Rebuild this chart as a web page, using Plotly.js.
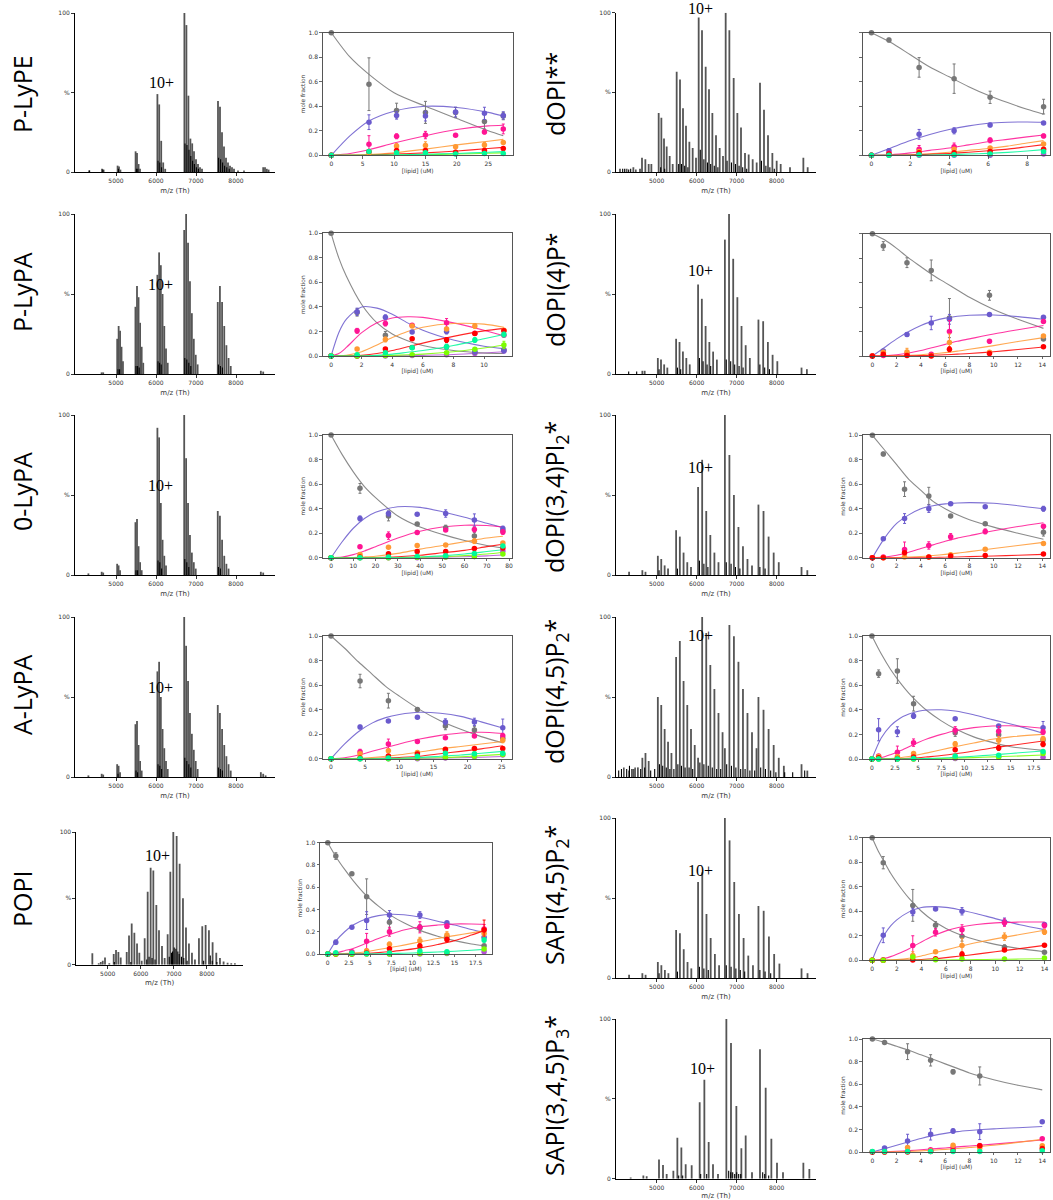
<!DOCTYPE html>
<html><head><meta charset="utf-8">
<script src="https://cdn.plot.ly/plotly-3.0.1.min.js"></script>
<style>body{margin:0;background:#fff}#chart{width:1053px;height:1200px}</style>
</head><body><div id="chart"></div>
<script>
// ================= DATA =================
const rowLabelsLeft = ['P-LyPE','P-LyPA','0-LyPA','A-LyPA','POPI'];
const rowLabelsRight = ['dOPI**','dOPI(4)P*','dOPI(3,4)PI<sub>2</sub>*','dOPI(4,5)P<sub>2</sub>*','SAPI(4,5)P<sub>2</sub>*','SAPI(3,4,5)P<sub>3</sub>*'];
const chargeLabel = '10+';
const specTicks = [5000,6000,7000,8000];
const fracTicksY = [0,0.2,0.4,0.6,0.8,1.0];

// ---- mass spectra: main peaks (m/z, % intensity) ----
const s1Mz  = [4333,4650,4690,5040,5075,5110,5490,5525,5565,5600,6035,6080,6130,6180,6230,6710,6760,6810,6860,6905,6950,7000,7050,7100,7150,7550,7600,7650,7700,7750,7800,7850,7900,7950,8680,8725,8770,8815];
const s1Int = [1,2,1.5,4,3.5,1.5,13,12,5,2,49,42.5,19.6,6,2,100,92.4,48,21,18,13,8,5,3,2,44.6,41,25,16,9,6,4,3,2,3,3,2,1.5];
const s1MinMz  = [4333,4670,5060,5510,5545,6050,6095,6140,6725,6775,6825,6870,6915,6960,7010,7060,7565,7615,7665,7715,7770,7830,8050,8200];
const s1MinInt = [1,1.5,2,2,2,7,6,3,18,17,14,10,7,5,3,2,9,8,6,4,3,2,1,1];

const s2Mz  = [4640,4680,5030,5066,5102,5138,5174,5486,5525,5564,5603,5642,5681,6035,6078,6121,6164,6207,6250,6293,6705,6753,6801,6849,6897,6945,6993,7041,7544,7598,7652,7706,7760,7814,7868,8621,8680];
const s2Int = [1,1,22,30,27,17,8,42,55,48,32,17,7,62,76,68,50,30,16,7,90,100,82,58,38,22,12,6,45,55,45,30,18,10,5,2,1.5];
const s2MinMz  = [5050,5090,5500,5540,5580,6050,6090,6130,6720,6770,6820,6870,7560,7610,7660];
const s2MinInt = [3,3,5,5,4,8,7,6,10,9,7,5,6,5,4];

const s3Mz  = [4310,4642,4680,5029,5065,5101,5486,5525,5564,5603,5642,6035,6078,6121,6164,6207,6250,6705,6753,6801,6849,6897,6945,6993,7544,7598,7652,7706,7760,7814,8621,8680];
const s3Int = [1,2,1.5,7,6,3,33,35,18,8,3,92,86,45,22,12,6,100,73,45,25,14,8,4,40,37,22,12,7,4,2,1.5];
const s3MinMz  = [5500,5540,6050,6095,6140,6720,6770,6820,7560,7610];
const s3MinInt = [3,3,9,8,4,10,8,5,5,4];

const s4Mz  = [4310,4642,4680,5029,5065,5101,5486,5525,5564,5603,5642,6035,6078,6121,6164,6207,6250,6293,6705,6753,6801,6849,6897,6945,6993,7041,7544,7598,7652,7706,7760,7814,7868,8621,8680,8740];
const s4Int = [1,2,1.5,8,7,3,33,35,20,10,4,66,72,50,30,18,10,5,100,82,60,40,27,17,10,5,45,40,30,20,13,8,4,3,2,1];
const s4MinMz  = [5050,5500,5540,6050,6095,6140,6720,6770,6820,6870,7560,7610,7660];
const s4MinInt = [2,4,3,8,7,5,12,10,8,6,6,5,4];

const s5Mz  = [4535,4728,4790,4850,4918,5048,5181,5251,5322,5393,5574,5644,5725,5805,5886,5956,6027,6117,6208,6298,6379,6470,6550,6641,6721,6812,6893,6983,7084,7174,7275,7366,7456,7547,7637,7758,7859,7960,8060,8171,8282,8393,8503,8624,8735,8845];
const s5Int = [8.6,1,2,3,5.5,1,8,11,9.5,5.5,9.5,22,31,24,16,9,3,20,55,73,71,45,26,14,5,23,70,100,97,76,50,28,16,9,4,20,29,30,26,17,9,5,2.5,1.5,1,1];
const s5MinMz  = [5200,5700,6180,6250,6340,6430,6860,6930,6960,7010,7060,7120,7160,7230,7300,7400,7900,8100,8160,8300];
const s5MinInt = [2,2,4,6,5,4,6,9,10,13,12,10,8,6,5,3,3,7,3,2];

const s6Mz  = [4083,4250,4417,4583,4633,4717,4800,4867,5050,5117,5183,5250,5325,5400,5500,5583,5658,5733,5817,5900,5983,6050,6133,6225,6308,6392,6483,6575,6658,6725,6817,6925,7017,7108,7208,7300,7400,7500,7583,7683,7783,7892,8000,8100,8333,8667,8775];
const s6Int = [2,2,3,2,9,8,5,5,37,34,21,16,10,5,63,58,40,29,19,15,9,97,89,66,52,37,23,15,10,100,89,59,37,28,12,11,8,6,56,39,23,12,7,5,3,9,3];
const s6MinMz  = [4150,4200,4300,4350,4480,5100,5200,5550,5620,5700,5780,6090,6180,6270,6350,6440,6530,6760,6870,6970,7060,7150,7250,7620,7730,7830,7940];
const s6MinInt = [2,2,1.5,2,1.5,3,2,5,5,4,3,14,8,6,5,4,3,7,6,5,4,3,2,7,4,3,2];

const s7Mz  = [4642,4700,5029,5108,5187,5266,5486,5571,5656,5741,5826,6035,6129,6223,6317,6411,6505,6705,6809,6913,7017,7121,7225,7329,7544,7662,7780,7898,8016,8621,8755];
const s7Int = [2,2,10,9,6,4,22,20,14,10,6,56,47,30,20,14,9,84,100,72,48,30,18,10,34,33,20,12,8,4,3];
const s7MinMz  = [4300,4500,5060,5520,5600,6070,6160,6260,6350,6740,6850,6950,7060,7160,7580,7700,7820];
const s7MinInt = [1.5,1.5,3,4,3,10,8,6,5,9,8,6,5,4,6,4,3];

const s8Mz  = [4310,4642,4720,5029,5114,5199,5284,5486,5579,5672,5765,5858,6035,6137,6239,6341,6443,6545,6705,6818,6931,7044,7157,7270,7383,7544,7671,7798,7925,8052,8621,8766];
const s8Int = [2,3,2,12,10,6,4,28,24,14,8,5,55,72,40,25,14,8,100,75,50,30,18,10,6,44,40,24,14,8,5,3];
const s8MinMz  = [5060,5520,6070,6180,6280,6740,6860,6970,7080,7580,7710];
const s8MinInt = [3,4,9,7,5,8,7,5,4,5,4];

const s9Mz  = [4310,4420,4530,4642,4720,4800,5029,5114,5199,5284,5369,5486,5579,5672,5765,5858,5951,6035,6137,6239,6341,6443,6545,6647,6705,6818,6931,7044,7157,7270,7383,7496,7544,7671,7798,7925,8052,8179,8621,8766];
const s9Int = [4,5,6,12,15,10,50,45,30,22,15,75,85,60,45,30,20,12,100,90,70,55,40,28,18,95,88,72,55,40,28,18,50,42,30,20,12,7,8,4];
const s9MinMz  = [4050,4120,4180,4250,4320,4380,4460,4600,4700,4850,4950,5070,5150,5240,5330,5430,5530,5620,5710,5810,5900,6080,6180,6290,6390,6500,6600,6750,6870,6980,7100,7210,7330,7450,7600,7720,7850,7980,8200,8400,8700];
const s9MinInt = [4,5,6,5,7,5,6,5,6,4,5,8,7,6,5,5,8,7,6,6,5,9,8,7,6,5,5,8,7,6,5,5,4,4,6,5,4,3,3,3,4];

const s10Mz  = [4310,4642,4723,5029,5117,5205,5293,5486,5581,5676,5771,5866,6035,6140,6245,6350,6455,6560,6705,6822,6939,7056,7173,7290,7407,7544,7675,7806,7937,8068,8621,8771];
const s10Int = [2,3,2,10,8,5,3,30,28,18,10,6,60,66,40,25,15,8,100,86,60,40,25,14,8,45,42,26,15,9,6,3];
const s10MinMz  = [5060,5520,6070,6180,6290,6740,6860,6980,7090,7200,7580,7710,7850];
const s10MinInt = [3,4,7,6,5,8,7,6,5,4,5,4,3];

const s11Mz  = [4350,4667,4750,5058,5158,5250,5417,5517,5617,5725,5875,6075,6192,6300,6408,6533,6742,6858,6992,7117,7225,7383,7583,7725,7867,8008,8158,8667,8817];
const s11Int = [0.8,2,1.5,12,8.6,3,5,25.7,19.5,9,8.5,47.8,62,23,9,3,100,85,45.6,19,27,4,81,57,25,10,4,10,6];
const s11MinMz  = [5550,5650,6100,6250,6800,6850,6900,6950,7000,7050,7100,7650,7700,7800];
const s11MinInt = [2,2,3,3,5,4,4,3,4,3,3,4,3,2];

// ---- mole fraction panels ----
// F1 P-LyPE
const f1Conc = [0,6.0,10.4,15.0,19.8,24.4,27.4];
const f1Gray = [1.0,0.58,0.365,0.35,0.35,0.275,0.32], f1GrayErr = [0,0.215,0.06,0.09,0.04,0.06,0.03];
const f1Blue = [0,0.27,0.325,0.32,0.353,0.342,0.325], f1BlueErr = [0,0.06,0.03,0.04,0.04,0.05,0.03];
const f1Pink = [0,0.09,0.155,0.165,0.163,0.19,0.215], f1PinkErr = [0,0.07,0.02,0.03,0.01,0.015,0.04];
const f1Orange = [0,0.02,0.075,0.08,0.07,0.085,0.105], f1OrangeErr = [0,0.01,0.02,0.03,0.01,0.02,0.01];
const f1Red = [0,0.03,0.04,0.04,0.025,0.04,0.055], f1RedErr = [0,0.01,0.01,0.01,0.01,0.01,0.01];
const f1Green = [0,0.03,0.02,0.02,0.01,0.015,0.015], f1GreenErr = [0,0.01,0.01,0.01,0,0.01,0.01];
const f1FitX = [0,3,6,10,15,20,25,27.4];
const f1FitGray = [1.0,0.80,0.66,0.51,0.40,0.30,0.20,0.16];
const f1FitBlue = [0,0.16,0.28,0.36,0.40,0.39,0.35,0.32];
const f1FitPink = [0,0.015,0.045,0.10,0.16,0.21,0.24,0.245];
const f1FitOrange = [0,0.002,0.006,0.02,0.05,0.085,0.115,0.13];
const f1FitRed = [0,0,0.002,0.01,0.02,0.035,0.055,0.065];
const f1FitGreen = [0,0,0,0.003,0.008,0.015,0.025,0.03];
const f1FitLime = [0,0,0,0.002,0.005,0.01,0.017,0.02];

// F2 P-LyPA
const f2Conc = [0,1.7,3.55,5.3,7.55,9.4,11.3];
const f2Gray = [1.0,0.355,0.17,0.07,0.075,0.03,0.05], f2GrayErr = [0,0.03,0.03,0.01,0.02,0.01,0.01];
const f2Blue = [0,0.36,0.315,0.195,0.2,0.035,0.045], f2BlueErr = [0,0.03,0.02,0.01,0.02,0.01,0.02];
const f2Pink = [0,0.205,0.265,0.25,0.27,0.185,0.17], f2PinkErr = [0,0.02,0.02,0.01,0.035,0.01,0.01];
const f2Orange = [0,0.057,0.135,0.245,0.22,0.245,0.21], f2OrangeErr = [0,0.01,0.02,0.01,0.01,0.02,0.01];
const f2Red = [0,0,0.057,0.14,0.13,0.183,0.205], f2RedErr = [0,0,0.01,0.01,0.02,0.01,0.01];
const f2Green = [0,0.01,0.027,0.068,0.076,0.13,0.175], f2GreenErr = [0,0,0.01,0.01,0.02,0.02,0.02];
const f2Lime = [0,0,0.005,0.01,0.027,0.055,0.09], f2LimeErr = [0,0,0,0,0.01,0.01,0.03];
const f2Purple = [0,0,0,0.005,0.01,0.02,0.04];
const f2FitX = [0,0.5,1,2,3,4,5,6,8,10,11.3];
const f2FitGray = [1.0,0.80,0.65,0.42,0.27,0.18,0.125,0.085,0.045,0.025,0.02];
const f2FitBlue = [0,0.19,0.30,0.40,0.39,0.34,0.27,0.21,0.13,0.08,0.06];
const f2FitPink = [0,0.02,0.07,0.19,0.27,0.31,0.32,0.315,0.27,0.21,0.165];
const f2FitOrange = [0,0,0.005,0.035,0.09,0.15,0.20,0.235,0.265,0.26,0.235];
const f2FitRed = [0,0,0,0.005,0.02,0.045,0.075,0.105,0.16,0.205,0.225];
const f2FitGreen = [0,0,0,0,0.005,0.015,0.03,0.045,0.085,0.14,0.175];
const f2FitLime = [0,0,0,0,0,0.005,0.01,0.015,0.035,0.065,0.09];
const f2FitPurple = [0,0,0,0,0,0,0.002,0.005,0.012,0.025,0.035];

// F3 0-LyPA
const f3Conc = [0,13,25.8,38.7,51.5,64.4,77.2];
const f3Gray = [1.0,0.565,0.34,0.275,0.245,0.177,0.22], f3GrayErr = [0,0.04,0.04,0.01,0.02,0.03,0.02];
const f3Blue = [0,0.32,0.36,0.355,0.36,0.307,0.237], f3BlueErr = [0,0.02,0.02,0.01,0.03,0.05,0.02];
const f3Pink = [0,0.09,0.18,0.205,0.225,0.23,0.21], f3PinkErr = [0,0.01,0.03,0.01,0.01,0.02,0.02];
const f3Orange = [0,0.027,0.085,0.1,0.103,0.135,0.12], f3OrangeErr = [0,0.01,0.01,0.01,0.01,0.02,0.01];
const f3Red = [0,0.005,0.033,0.05,0.05,0.075,0.08], f3RedErr = [0,0,0.01,0.01,0.01,0.01,0.01];
const f3Green = [0,0,0.005,0.01,0.015,0.035,0.095], f3GreenErr = [0,0,0,0,0.01,0.01,0.01];
const f3Lime = [0,0,0,0.003,0.005,0.01,0.03];
const f3Purple = [0,0,0,0,0.005,0.01,0.055];
const f3FitX = [0,5,10,15,20,30,40,50,60,70,77.2];
const f3FitGray = [1.0,0.84,0.70,0.58,0.49,0.34,0.25,0.19,0.14,0.10,0.08];
const f3FitBlue = [0,0.13,0.24,0.32,0.37,0.415,0.41,0.375,0.33,0.28,0.245];
const f3FitPink = [0,0.005,0.025,0.055,0.09,0.16,0.215,0.25,0.265,0.262,0.25];
const f3FitOrange = [0,0,0.002,0.006,0.012,0.035,0.07,0.1,0.13,0.16,0.175];
const f3FitRed = [0,0,0,0.001,0.002,0.008,0.02,0.04,0.06,0.09,0.11];
const f3FitGreen = [0,0,0,0,0,0.002,0.006,0.015,0.03,0.05,0.065];
const f3FitLime = [0,0,0,0,0,0.001,0.003,0.008,0.017,0.03,0.045];
const f3FitPurple = [0,0,0,0,0,0,0.001,0.003,0.008,0.015,0.022];

// F4 A-LyPA
const f4Conc = [0,4.25,8.4,12.65,16.75,21.0,25.15];
const f4Gray = [1.0,0.633,0.473,0.40,0.266,0.234,0.166], f4GrayErr = [0,0.055,0.06,0.01,0.03,0.03,0.02];
const f4Blue = [0,0.258,0.307,0.337,0.30,0.30,0.253], f4BlueErr = [0,0.015,0.01,0.01,0.025,0.03,0.07];
const f4Pink = [0,0.057,0.12,0.14,0.17,0.185,0.187], f4PinkErr = [0,0.02,0.04,0.01,0.01,0.01,0.02];
const f4Orange = [0,0.04,0.065,0.05,0.07,0.08,0.15], f4OrangeErr = [0,0.01,0.01,0.01,0.01,0.01,0.02];
const f4Red = [0,0.005,0.022,0.038,0.076,0.083,0.083], f4RedErr = [0,0,0.01,0.01,0.01,0.01,0.01];
const f4Green = [0,0,0.005,0.02,0.045,0.04,0.045];
const f4Lime = [0,0,0,0.005,0.01,0.02,0.035];
const f4Purple = [0,0,0,0,0.005,0.015,0.03];
const f4FitX = [0,2,4,6,8,10,13,16,19,22,25.15];
const f4FitGray = [1.0,0.90,0.79,0.69,0.59,0.51,0.40,0.31,0.24,0.18,0.13];
const f4FitBlue = [0,0.12,0.22,0.29,0.335,0.36,0.378,0.37,0.345,0.30,0.25];
const f4FitPink = [0,0.008,0.03,0.06,0.09,0.12,0.16,0.19,0.21,0.215,0.205];
const f4FitOrange = [0,0,0.003,0.01,0.02,0.032,0.055,0.08,0.1,0.12,0.14];
const f4FitRed = [0,0,0,0.002,0.005,0.01,0.02,0.04,0.06,0.08,0.105];
const f4FitGreen = [0,0,0,0,0.002,0.004,0.01,0.02,0.03,0.045,0.06];
const f4FitLime = [0,0,0,0,0,0.001,0.004,0.008,0.015,0.025,0.035];
const f4FitPurple = [0,0,0,0,0,0,0.002,0.004,0.008,0.012,0.018];

// F5 POPI
const f5Conc = [0,0.95,2.85,4.6,7.3,10.9,14.1,18.5];
const f5Gray = [1.0,0.88,0.72,0.515,0.285,0.235,0.155,0.075], f5GrayErr = [0,0.03,0.01,0.16,0.06,0.03,0.02,0.01];
const f5Blue = [0,0.105,0.24,0.30,0.35,0.35,0.28,0.15], f5BlueErr = [0,0.02,0.01,0.08,0.04,0.03,0.01,0.02];
const f5Pink = [0,0.005,0.02,0.115,0.20,0.24,0.25,0.225], f5PinkErr = [0,0,0.01,0.07,0.04,0.05,0.02,0.04];
const f5Orange = [0,0,0.005,0.03,0.087,0.12,0.17,0.185], f5OrangeErr = [0,0,0,0.01,0.02,0.03,0.03,0.03];
const f5Red = [0,0,0,0.01,0.048,0.072,0.13,0.215], f5RedErr = [0,0,0,0,0.01,0.02,0.02,0.09];
const f5Green = [0,0.012,0.01,0.005,0.01,0.027,0.02,0.125], f5GreenErr = [0,0,0,0,0,0.01,0.01,0.02];
const f5Lime = [0,0,0,0,0,0.005,0.01,0.045];
const f5Purple = [0,0,0,0,0,0,0.005,0.02];
const f5FitX = [0,1,2,3,4.5,6,7.5,9,11,13,15,17,18.5];
const f5FitGray = [1.0,0.87,0.76,0.66,0.53,0.43,0.345,0.28,0.21,0.16,0.12,0.09,0.075];
const f5FitBlue = [0,0.12,0.20,0.26,0.315,0.345,0.357,0.352,0.33,0.295,0.26,0.22,0.195];
const f5FitPink = [0,0.01,0.03,0.05,0.095,0.14,0.18,0.215,0.245,0.26,0.27,0.27,0.267];
const f5FitOrange = [0,0,0.003,0.008,0.02,0.04,0.06,0.08,0.11,0.14,0.165,0.19,0.21];
const f5FitRed = [0,0,0,0.001,0.005,0.012,0.022,0.035,0.055,0.085,0.12,0.17,0.21];
const f5FitGreen = [0,0,0,0,0,0.002,0.004,0.007,0.012,0.018,0.025,0.034,0.042];

// F6 dOPI**
const f6Conc = [0,0.9,2.45,4.25,6.1,8.85];
const f6Gray = [1.0,0.94,0.717,0.625,0.473,0.397], f6GrayErr = [0,0.015,0.08,0.12,0.05,0.06];
const f6Blue = [0,0.038,0.171,0.2,0.247,0.264], f6BlueErr = [0,0.015,0.04,0.025,0.015,0.01];
const f6Pink = [0,0.016,0.05,0.07,0.122,0.158], f6PinkErr = [0,0.01,0.03,0.03,0.02,0.015];
const f6Orange = [0,0.005,0.03,0.05,0.06,0.092], f6OrangeErr = [0,0,0.01,0.01,0.01,0.01];
const f6Red = [0,0.01,0.02,0.02,0.03,0.05], f6RedErr = [0,0,0.01,0.01,0.01,0.01];
const f6Green = [0,0,0.005,0.005,0.01,0.03];
const f6Purple = [0,0,0,0,0,0.01];
const f6FitX = [0,1,2,3,4,5,6,7,8,8.85];
const f6FitGray = [1.0,0.92,0.82,0.72,0.64,0.56,0.49,0.43,0.375,0.335];
const f6FitBlue = [0,0.06,0.12,0.17,0.21,0.24,0.262,0.27,0.272,0.27];
const f6FitPink = [0,0.005,0.02,0.04,0.06,0.085,0.11,0.13,0.15,0.165];
const f6FitOrange = [0,0,0.005,0.012,0.025,0.04,0.055,0.075,0.1,0.12];
const f6FitRed = [0,0,0.003,0.008,0.015,0.025,0.037,0.05,0.07,0.087];
const f6FitGreen = [0,0,0,0.002,0.006,0.01,0.016,0.024,0.035,0.046];

// F7 dOPI(4)P*
const f7Conc = [0,0.9,2.85,4.85,6.35,9.65,14.1];
const f7Gray = [1.0,0.90,0.763,0.70,0.31,0.496,0.14], f7GrayErr = [0,0.035,0.04,0.085,0.16,0.04,0.01];
const f7Blue = [0,0.04,0.175,0.27,0.30,0.34,0.316], f7BlueErr = [0,0.01,0.015,0.055,0.04,0.01,0.01];
const f7Pink = [0,0.005,0.02,0.015,0.2,0.12,0.283], f7PinkErr = [0,0,0.01,0.01,0.09,0.015,0.01];
const f7Orange = [0,0.03,0.033,0.005,0.11,0.03,0.163], f7OrangeErr = [0,0.01,0.03,0,0.07,0.01,0.01];
const f7Red = [0,0.015,0.005,0,0.055,0.02,0.075], f7RedErr = [0,0.01,0,0,0.02,0.01,0.01];
const f7FitX = [0,1,2,3,4,5,6,7,8,10,12,14.1];
const f7FitGray = [1.0,0.95,0.88,0.8,0.73,0.66,0.60,0.54,0.48,0.38,0.3,0.226];
const f7FitBlue = [0,0.07,0.14,0.2,0.25,0.285,0.31,0.325,0.333,0.335,0.322,0.30];
const f7FitPink = [0,0.002,0.01,0.025,0.045,0.07,0.095,0.12,0.14,0.18,0.215,0.25];
const f7FitOrange = [0,0,0.001,0.005,0.01,0.018,0.028,0.04,0.055,0.085,0.118,0.15];
const f7FitRed = [0,0,0,0.001,0.003,0.006,0.01,0.015,0.02,0.035,0.053,0.074];

// F8 dOPI(3,4)PI2*
const f8Conc = [0,0.9,2.65,4.65,6.45,9.3,14.1];
const f8Gray = [1.0,0.847,0.56,0.505,0.34,0.278,0.207], f8GrayErr = [0,0.015,0.06,0.07,0.01,0.01,0.03];
const f8Blue = [0,0.155,0.32,0.40,0.44,0.417,0.40], f8BlueErr = [0,0.01,0.04,0.03,0.01,0.01,0.02];
const f8Pink = [0,0.005,0.068,0.10,0.172,0.215,0.256], f8PinkErr = [0,0,0.06,0.03,0.025,0.02,0.01];
const f8Orange = [0,0,0.005,0.005,0.025,0.07,0.117], f8OrangeErr = [0,0,0,0,0.01,0.01,0.01];
const f8Red = [0,0,0.04,0.005,0.013,0.018,0.03], f8RedErr = [0,0,0,0,0,0.01,0.01];
const f8FitX = [0,1,2,3,4,5,6,7,8,10,12,14.1];
const f8FitGray = [1.0,0.88,0.76,0.64,0.55,0.46,0.4,0.35,0.31,0.25,0.2,0.15];
const f8FitBlue = [0,0.16,0.28,0.35,0.4,0.425,0.44,0.447,0.45,0.445,0.425,0.40];
const f8FitPink = [0,0.005,0.02,0.045,0.075,0.105,0.135,0.16,0.18,0.22,0.255,0.286];
const f8FitOrange = [0,0,0.002,0.005,0.01,0.018,0.027,0.037,0.05,0.075,0.1,0.125];
const f8FitRed = [0,0,0,0,0.001,0.002,0.004,0.006,0.009,0.014,0.02,0.027];

// F9 dOPI(4,5)P2*
const f9Conc = [0,0.72,2.75,4.5,9.0,13.7,18.5];
const f9Gray = [1.0,0.694,0.715,0.45,0.214,0.198,0.155], f9GrayErr = [0,0.03,0.1,0.06,0.03,0.03,0.02];
const f9Blue = [0,0.238,0.222,0.35,0.327,0.268,0.255], f9BlueErr = [0,0.09,0.04,0.02,0.01,0.01,0.05];
const f9Pink = [0,0.025,0.055,0.133,0.233,0.225,0.22], f9PinkErr = [0,0.01,0.05,0.03,0.03,0.04,0.02];
const f9Orange = [0,0.02,0.02,0.045,0.122,0.152,0.165], f9OrangeErr = [0,0.01,0.01,0.01,0.02,0.03,0.02];
const f9Red = [0,0.01,0.005,0.016,0.076,0.09,0.12], f9RedErr = [0,0,0,0.01,0.01,0.02,0.02];
const f9Green = [0,0,0,0.005,0.025,0.03,0.06];
const f9Lime = [0,0,0,0,0.01,0.015,0.045];
const f9Purple = [0,0,0,0,0.005,0.02,0.015];
const f9FitX = [0,1,2,3,4,5,6,7.5,9,11,13,15,18.5];
const f9FitGray = [1.0,0.855,0.73,0.625,0.534,0.457,0.39,0.31,0.245,0.18,0.135,0.1,0.07];
const f9FitBlue = [0,0.17,0.27,0.33,0.365,0.388,0.398,0.40,0.39,0.36,0.32,0.285,0.21];
const f9FitPink = [0,0.01,0.035,0.065,0.1,0.135,0.165,0.2,0.23,0.255,0.268,0.27,0.25];
const f9FitOrange = [0,0,0.003,0.01,0.02,0.035,0.05,0.075,0.1,0.13,0.16,0.18,0.2];
const f9FitRed = [0,0,0,0.002,0.005,0.01,0.017,0.028,0.042,0.065,0.09,0.11,0.146];
const f9FitGreen = [0,0,0,0,0.001,0.002,0.004,0.008,0.013,0.022,0.033,0.045,0.065];
const f9FitLime = [0,0,0,0,0,0.001,0.002,0.004,0.007,0.011,0.017,0.022,0.032];

// F10 SAPI(4,5)P2*
const f10Conc = [0,0.9,3.3,5.15,7.3,10.75,14.0];
const f10Gray = [1.0,0.796,0.448,0.285,0.196,0.106,0.065], f10GrayErr = [0,0.05,0.13,0.03,0.04,0.02,0.01];
const f10Blue = [0,0.204,0.394,0.418,0.40,0.315,0.293], f10BlueErr = [0,0.06,0.03,0.01,0.03,0.03,0.01];
const f10Pink = [0,0.005,0.12,0.228,0.25,0.307,0.283], f10PinkErr = [0,0,0.08,0.03,0.04,0.03,0.02];
const f10Orange = [0,0,0.04,0.07,0.12,0.193,0.231], f10OrangeErr = [0,0,0.03,0.01,0.06,0.03,0.02];
const f10Red = [0,0,0.003,0.013,0.049,0.084,0.122], f10RedErr = [0,0,0,0,0.02,0.01,0.01];
const f10Lime = [0,0,0.027,0.005,0.01,0.01,0.019];
const f10FitX = [0,0.5,1,1.5,2,3,4,5,6,7,8.5,10,12,14];
const f10FitGray = [1.0,0.89,0.80,0.71,0.635,0.505,0.40,0.32,0.26,0.215,0.165,0.13,0.095,0.07];
const f10FitBlue = [0,0.12,0.21,0.28,0.33,0.395,0.43,0.438,0.432,0.415,0.38,0.34,0.29,0.25];
const f10FitPink = [0,0.004,0.015,0.03,0.05,0.095,0.15,0.2,0.24,0.268,0.292,0.305,0.312,0.312];
const f10FitOrange = [0,0,0.001,0.003,0.006,0.017,0.035,0.06,0.085,0.11,0.145,0.175,0.21,0.245];
const f10FitRed = [0,0,0,0,0.001,0.003,0.007,0.013,0.022,0.033,0.05,0.07,0.095,0.122];
const f10FitLime = [0,0,0,0,0,0,0.001,0.002,0.003,0.004,0.006,0.008,0.01,0.013];

// F11 SAPI(3,4,5)P3*
const f11Conc = [0,1.0,2.9,4.8,6.65,8.85,14.0];
const f11Gray = [1.0,0.968,0.888,0.811,0.71,0.673,null], f11GrayErr = [0,0.01,0.07,0.05,0.02,0.08,0];
const f11Blue = [0,0.035,0.097,0.156,0.186,0.18,0.268], f11BlueErr = [0,0.01,0.06,0.05,0.02,0.07,0.01];
const f11Pink = [0,0,0.005,0.02,0.035,0.056,0.118], f11PinkErr = [0,0,0,0.005,0.01,0.02,0.005];
const f11Orange = [0,0,0.04,0.01,0.06,0.035,0.056], f11OrangeErr = [0,0,0.01,0,0.01,0.01,0.01];
const f11Red = [0,0,0,0.005,0.01,0.055,0.03];
const f11Green = [0.005,0.005,0.005,0.005,0.005,0.005,0.012];
const f11FitX = [0,1,2,3,4,5,6,7,8,10,12,14];
const f11FitGray = [1.0,0.97,0.935,0.9,0.86,0.82,0.78,0.74,0.70,0.64,0.59,0.55];
const f11FitBlue = [0,0.03,0.06,0.09,0.12,0.145,0.165,0.18,0.19,0.205,0.215,0.225];
const f11FitPink = [0,0.002,0.006,0.012,0.02,0.028,0.036,0.045,0.053,0.07,0.088,0.106];
const f11FitOrange = [0,0,0.002,0.005,0.01,0.016,0.023,0.031,0.04,0.06,0.085,0.112];

// ================= STYLE / LAYOUT =================
const W = 1053, H = 1200;
const COL = {purple:'#b44fd6', gray:'#777777', blue:'#6a5acd', pink:'#ff1493', orange:'#ff9933', red:'#ff0000', lime:'#7cfc00', green:'#00fa9a'};
const ORDER = ['purple','gray','blue','pink','orange','red','lime','green'];
const TICKFONT = {family:'DejaVu Sans, sans-serif', size:6, color:'#333'};
const TITLEFONT = {family:'DejaVu Sans, sans-serif', size:5.8, color:'#333'};

// spectrum panels: [mz, int, minorMz, minorInt, box(l,t,r,b), xrange]
const spectra = [
  [s1Mz,s1Int,s1MinMz,s1MinInt,[75,13,275,172],[3975,8975]],
  [s2Mz,s2Int,s2MinMz,s2MinInt,[75,214,275,374],[3975,8975]],
  [s3Mz,s3Int,s3MinMz,s3MinInt,[75,415,275,575],[3975,8975]],
  [s4Mz,s4Int,s4MinMz,s4MinInt,[75,617,275,777],[3975,8975]],
  [s5Mz,s5Int,s5MinMz,s5MinInt,[76.3,832,243,964.7],[4050,9090]],
  [s6Mz,s6Int,s6MinMz,s6MinInt,[616,12.7,816,172],[3983,8983]],
  [s7Mz,s7Int,s7MinMz,s7MinInt,[616,214,816,374],[3983,8983]],
  [s8Mz,s8Int,s8MinMz,s8MinInt,[616,415,816,575],[3983,8983]],
  [s9Mz,s9Int,s9MinMz,s9MinInt,[616,617,816,777],[3983,8983]],
  [s10Mz,s10Int,s10MinMz,s10MinInt,[616,818,816,978],[3983,8983]],
  [s11Mz,s11Int,s11MinMz,s11MinInt,[616,1019,816,1178.7],[3983,8983]]
];

// fraction panels
const RX = 1050;
const fracs = [
  {conc:f1Conc, fitX:f1FitX, box:[322.7,32.7,512.7,155.3], xr:[-1.37,28.9], dt:5, labels:true,
   pts:{gray:[f1Gray,f1GrayErr],blue:[f1Blue,f1BlueErr],pink:[f1Pink,f1PinkErr],orange:[f1Orange,f1OrangeErr],red:[f1Red,f1RedErr],green:[f1Green,f1GreenErr]},
   fit:{gray:f1FitGray,blue:f1FitBlue,pink:f1FitPink,orange:f1FitOrange,red:f1FitRed,lime:f1FitLime,green:f1FitGreen}},
  {conc:f2Conc, fitX:f2FitX, box:[322.7,233.3,512,356], xr:[-0.55,11.83], dt:2, labels:true,
   pts:{purple:[f2Purple],gray:[f2Gray,f2GrayErr],blue:[f2Blue,f2BlueErr],pink:[f2Pink,f2PinkErr],orange:[f2Orange,f2OrangeErr],red:[f2Red,f2RedErr],lime:[f2Lime,f2LimeErr],green:[f2Green,f2GreenErr]},
   fit:{purple:f2FitPurple,gray:f2FitGray,blue:f2FitBlue,pink:f2FitPink,orange:f2FitOrange,red:f2FitRed,lime:f2FitLime,green:f2FitGreen}},
  {conc:f3Conc, fitX:f3FitX, box:[322.7,435,512,557.7], xr:[-3.75,81.3], dt:10, labels:true,
   pts:{purple:[f3Purple],gray:[f3Gray,f3GrayErr],blue:[f3Blue,f3BlueErr],pink:[f3Pink,f3PinkErr],orange:[f3Orange,f3OrangeErr],red:[f3Red,f3RedErr],lime:[f3Lime],green:[f3Green,f3GreenErr]},
   fit:{purple:f3FitPurple,gray:f3FitGray,blue:f3FitBlue,pink:f3FitPink,orange:f3FitOrange,red:f3FitRed,lime:f3FitLime,green:f3FitGreen}},
  {conc:f4Conc, fitX:f4FitX, box:[322.7,636,511.7,758.7], xr:[-1.22,26.46], dt:5, labels:true,
   pts:{purple:[f4Purple],gray:[f4Gray,f4GrayErr],blue:[f4Blue,f4BlueErr],pink:[f4Pink,f4PinkErr],orange:[f4Orange,f4OrangeErr],red:[f4Red,f4RedErr],lime:[f4Lime],green:[f4Green]},
   fit:{purple:f4FitPurple,gray:f4FitGray,blue:f4FitBlue,pink:f4FitPink,orange:f4FitOrange,red:f4FitRed,lime:f4FitLime,green:f4FitGreen}},
  {conc:f5Conc, fitX:f5FitX, box:[320,842.7,491.7,954], xr:[-0.92,19.4], dt:2.5, labels:true,
   pts:{purple:[f5Purple],gray:[f5Gray,f5GrayErr],blue:[f5Blue,f5BlueErr],pink:[f5Pink,f5PinkErr],orange:[f5Orange,f5OrangeErr],red:[f5Red,f5RedErr],lime:[f5Lime],green:[f5Green,f5GreenErr]},
   fit:{gray:f5FitGray,blue:f5FitBlue,pink:f5FitPink,orange:f5FitOrange,red:f5FitRed,green:f5FitGreen}},
  {conc:f6Conc, fitX:f6FitX, box:[862.7,32.7,RX,155.3], xr:[-0.45,9.18], dt:2, labels:false,
   pts:{purple:[f6Purple],gray:[f6Gray,f6GrayErr],blue:[f6Blue,f6BlueErr],pink:[f6Pink,f6PinkErr],orange:[f6Orange,f6OrangeErr],red:[f6Red,f6RedErr],green:[f6Green]},
   fit:{gray:f6FitGray,blue:f6FitBlue,pink:f6FitPink,orange:f6FitOrange,red:f6FitRed,green:f6FitGreen}},
  {conc:f7Conc, fitX:f7FitX, box:[862.7,233.7,RX,356], xr:[-0.8,14.64], dt:2, labels:false,
   pts:{gray:[f7Gray,f7GrayErr],blue:[f7Blue,f7BlueErr],pink:[f7Pink,f7PinkErr],orange:[f7Orange,f7OrangeErr],red:[f7Red,f7RedErr]},
   fit:{gray:f7FitGray,blue:f7FitBlue,pink:f7FitPink,orange:f7FitOrange,red:f7FitRed}},
  {conc:f8Conc, fitX:f8FitX, box:[862.7,435.3,RX,557.7], xr:[-0.8,14.64], dt:2, labels:true,
   pts:{gray:[f8Gray,f8GrayErr],blue:[f8Blue,f8BlueErr],pink:[f8Pink,f8PinkErr],orange:[f8Orange,f8OrangeErr],red:[f8Red,f8RedErr]},
   fit:{gray:f8FitGray,blue:f8FitBlue,pink:f8FitPink,orange:f8FitOrange,red:f8FitRed}},
  {conc:f9Conc, fitX:f9FitX, box:[862.7,636,RX,759], xr:[-1.0,19.25], dt:2.5, labels:true,
   pts:{purple:[f9Purple],gray:[f9Gray,f9GrayErr],blue:[f9Blue,f9BlueErr],pink:[f9Pink,f9PinkErr],orange:[f9Orange,f9OrangeErr],red:[f9Red,f9RedErr],lime:[f9Lime],green:[f9Green]},
   fit:{gray:f9FitGray,blue:f9FitBlue,pink:f9FitPink,orange:f9FitOrange,red:f9FitRed,lime:f9FitLime,green:f9FitGreen}},
  {conc:f10Conc, fitX:f10FitX, box:[862.7,837.7,RX,960.3], xr:[-0.77,14.45], dt:2, labels:true,
   pts:{gray:[f10Gray,f10GrayErr],blue:[f10Blue,f10BlueErr],pink:[f10Pink,f10PinkErr],orange:[f10Orange,f10OrangeErr],red:[f10Red,f10RedErr],lime:[f10Lime]},
   fit:{gray:f10FitGray,blue:f10FitBlue,pink:f10FitPink,orange:f10FitOrange,red:f10FitRed,lime:f10FitLime}},
  {conc:f11Conc, fitX:f11FitX, box:[862.7,1039,RX,1152], xr:[-0.8,14.64], dt:2, labels:true,
   pts:{gray:[f11Gray,f11GrayErr],blue:[f11Blue,f11BlueErr],pink:[f11Pink,f11PinkErr],orange:[f11Orange,f11OrangeErr],red:[f11Red],green:[f11Green]},
   fit:{gray:f11FitGray,blue:f11FitBlue,pink:f11FitPink,orange:f11FitOrange}}
];

const traces = [];
const layout = {width:W, height:H, margin:{l:0,r:0,t:0,b:0}, showlegend:false,
  paper_bgcolor:'#fff', plot_bgcolor:'rgba(0,0,0,0)', annotations:[]};
let axN = 0;
function dom(box){ return {x:[box[0]/W, box[2]/W], y:[1-box[3]/H, 1-box[1]/H]}; }
function axName(n){ return n===1 ? '' : String(n); }

// spectra
spectra.forEach(sp => {
  axN++; const a = axName(axN); const d = dom(sp[4]);
  const mk = (mz,it) => { const x=[],y=[]; mz.forEach((m,i)=>{x.push(m,m,null); y.push(0,it[i],null);}); return {x,y}; };
  const main = mk(sp[0], sp[1]); const minor = mk(sp[2], sp[3]);
  traces.push({type:'scatter', mode:'lines', x:main.x, y:main.y, xaxis:'x'+a, yaxis:'y'+a,
    line:{color:'#555', width:1.8}, hoverinfo:'skip'});
  traces.push({type:'scatter', mode:'lines', x:minor.x, y:minor.y, xaxis:'x'+a, yaxis:'y'+a,
    line:{color:'#000', width:1.1}, hoverinfo:'skip'});
  layout['xaxis'+a] = {domain:d.x, anchor:'y'+a, range:sp[5], showgrid:false, zeroline:false,
    showline:true, linecolor:'#000', linewidth:1, ticks:'outside', ticklen:3, tickwidth:0.8, tickcolor:'#000',
    tickvals:specTicks, tickfont:TICKFONT, title:{text:'m/z (Th)', font:{family:'DejaVu Sans, sans-serif', size:7, color:'#333'}, standoff:4}};
  layout['yaxis'+a] = {domain:d.y, anchor:'x'+a, range:[0,100], showgrid:false, zeroline:false,
    showline:true, linecolor:'#000', linewidth:1, ticks:'outside', ticklen:3, tickwidth:0.8, tickcolor:'#000',
    tickvals:[0,50,100], ticktext:['0','%','100'], tickfont:TICKFONT};
});

// fraction panels
fracs.forEach(fp => {
  axN++; const a = axName(axN); const d = dom(fp.box);
  ORDER.forEach(k => { if(fp.fit[k]) traces.push({type:'scatter', mode:'lines', x:fp.fitX, y:fp.fit[k],
    xaxis:'x'+a, yaxis:'y'+a, line:{color:COL[k], width:1.1, shape:'spline', smoothing:0.8}, opacity:0.85, hoverinfo:'skip'}); });
  ORDER.forEach(k => { if(fp.pts[k]) { const p = fp.pts[k];
    const tr = {type:'scatter', mode:'markers', x:fp.conc, y:p[0], xaxis:'x'+a, yaxis:'y'+a, cliponaxis:false,
      marker:{color:COL[k], size:5.5}, hoverinfo:'skip'};
    if(p[1]) tr.error_y = {type:'data', array:p[1], visible:true, color:COL[k], thickness:1, width:1.5};
    traces.push(tr); } });
  layout['xaxis'+a] = {domain:d.x, anchor:'y'+a, range:fp.xr, dtick:fp.dt, tick0:0, showgrid:false, zeroline:false,
    showline:true, mirror:true, linecolor:'#444', linewidth:0.9, ticks:'outside', ticklen:2.5, tickwidth:0.8, tickcolor:'#444',
    tickfont:TICKFONT, title:{text:'[lipid] (uM)', font:TITLEFONT, standoff:2}};
  const ya = {domain:d.y, anchor:'x'+a, range:[0,1], tickvals:fracTicksY, tickformat:'.1f', showgrid:false, zeroline:false,
    showline:true, mirror:true, linecolor:'#444', linewidth:0.9, ticks:'outside', ticklen:2.5, tickwidth:0.8, tickcolor:'#444',
    tickfont:TICKFONT, showticklabels:fp.labels};
  if(fp.labels) ya.title = {text:'mole fraction', font:TITLEFONT, standoff:2};
  layout['yaxis'+a] = ya;
});

// row labels
const LABFONT = {family:'Open Sans, Noto Sans, sans-serif', size:25, color:'#000'};
const leftY = [94, 292, 492, 695, 899];
const rightY = [94, 290, 497, 692, 895, 1096];
rowLabelsLeft.forEach((t,i)=> layout.annotations.push({text:t, x:22/W, y:1-leftY[i]/H, xref:'paper', yref:'paper',
  showarrow:false, textangle:-90, font:LABFONT, xanchor:'center', yanchor:'middle'}));
rowLabelsRight.forEach((t,i)=> layout.annotations.push({text:t, x:555/W, y:1-rightY[i]/H, xref:'paper', yref:'paper',
  showarrow:false, textangle:-90, font:LABFONT, xanchor:'center', yanchor:'middle'}));
// charge labels
const chargePos = [[161,82],[160,284],[160,485],[160,687],[157,855],[700,8],[700,270],[700,467],[700,635],[700,870],[702,1068]];
chargePos.forEach(p => layout.annotations.push({text:chargeLabel, x:p[0]/W, y:1-p[1]/H, xref:'paper', yref:'paper',
  showarrow:false, font:{family:'Liberation Serif, Times New Roman, serif', size:16, color:'#000'}, xanchor:'center', yanchor:'middle'}));

Plotly.newPlot('chart', traces, layout, {displayModeBar:false, staticPlot:true});
</script></body></html>
